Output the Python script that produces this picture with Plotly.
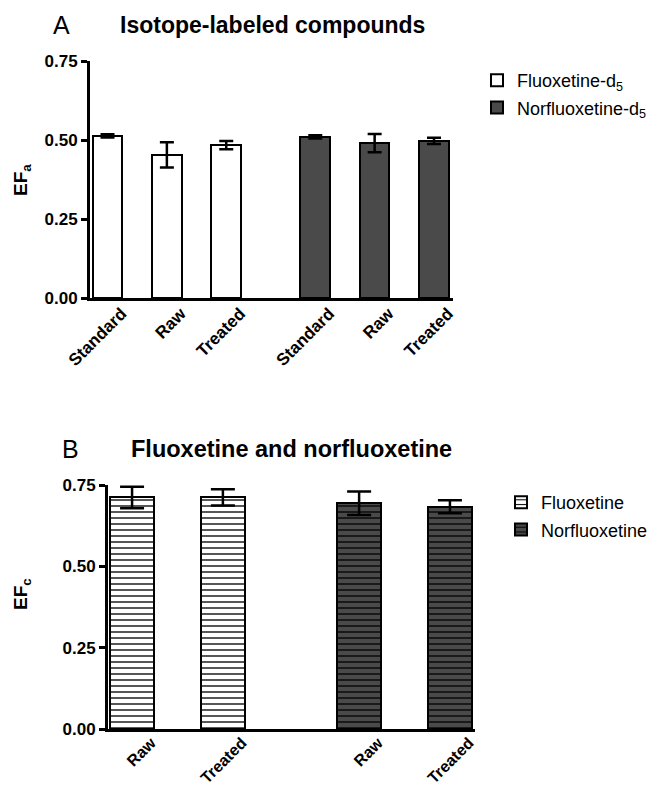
import plotly.graph_objects as go

# Panel A: isotope-labeled compounds, EF_a
a_groups = ["Fluoxetine-d<sub>5</sub>", "Norfluoxetine-d<sub>5</sub>"]
a_samples = ["Standard", "Raw", "Treated"]
a_fluox_mean = [0.513, 0.453, 0.484]
a_fluox_err = [0.005, 0.040, 0.013]
a_norfl_mean = [0.510, 0.490, 0.497]
a_norfl_err = [0.005, 0.029, 0.010]

# Panel B: fluoxetine and norfluoxetine, EF_c
b_groups = ["Fluoxetine", "Norfluoxetine"]
b_samples = ["Raw", "Treated"]
b_fluox_mean = [0.712, 0.712]
b_fluox_err = [0.033, 0.025]
b_norfl_mean = [0.694, 0.683]
b_norfl_err = [0.036, 0.020]

y_ticks = [0.0, 0.25, 0.50, 0.75]

W, H = 655, 790
DARK = "#4a4a4a"
FONT = "Liberation Sans, Arial, sans-serif"


def positions(group_index, n):
    # bars of one group sit side by side; groups are separated by half a slot
    return [group_index * (n + 0.5) + i for i in range(n)]


fig = go.Figure()

a_pos = [positions(0, 3), positions(1, 3)]
b_pos = [positions(0, 2), positions(1, 2)]

# panel A bars
for gi, (name, mean, err, fill) in enumerate([
    (a_groups[0], a_fluox_mean, a_fluox_err, "white"),
    (a_groups[1], a_norfl_mean, a_norfl_err, DARK),
]):
    fig.add_trace(go.Bar(
        x=a_pos[gi], y=mean, name=name, width=0.5,
        marker=dict(color=fill, line=dict(color="black", width=2)),
        error_y=dict(type="data", array=err, color="black", thickness=2.5, width=7),
        xaxis="x", yaxis="y", legend="legend", legendgroup=f"a{gi}",
    ))

# panel B bars with horizontal stripes
for gi, (name, mean, err, fill) in enumerate([
    (b_groups[0], b_fluox_mean, b_fluox_err, "white"),
    (b_groups[1], b_norfl_mean, b_norfl_err, DARK),
]):
    fig.add_trace(go.Bar(
        x=b_pos[gi], y=mean, name=name, width=0.49,
        marker=dict(
            color=fill, line=dict(color="black", width=2),
            pattern=dict(shape="-", size=6, solidity=0.22, fgcolor="black",
                         bgcolor=fill, fillmode="replace"),
        ),
        error_y=dict(type="data", array=err, color="black", thickness=2.5, width=12),
        xaxis="x2", yaxis="y2", legend="legend2", legendgroup=f"b{gi}",
    ))

axis_common = dict(
    showline=True, linewidth=3, linecolor="black", showgrid=False, zeroline=False,
    ticks="outside", ticklen=6, tickwidth=2.5, tickcolor="black", automargin=False,
    tickfont=dict(family=FONT, size=17, color="black", weight="bold"),
)

xa = dict(axis_common)
xa.update(ticklen=0, tickangle=-45, ticklabelstandoff=-4,
          tickfont=dict(family=FONT, size=17, color="black", weight="bold"))

xb = dict(xa)
xb.update(ticklabelstandoff=-5, tickfont=dict(family=FONT, size=16, color="black", weight="bold"))

fig.update_layout(
    width=W, height=H, margin=dict(l=0, r=0, t=0, b=0, autoexpand=False),
    paper_bgcolor="white", plot_bgcolor="white",
    barmode="overlay", bargap=0,
    font=dict(family=FONT, color="black"),
    xaxis=dict(xa, domain=[90 / W, 453 / W], range=[-0.295, 5.82], ticklabelshift=14,
               tickvals=a_pos[0] + a_pos[1], ticktext=a_samples + a_samples, anchor="y"),
    yaxis=dict(axis_common, domain=[1 - 298 / H, 1 - 61 / H], range=[0, 0.75],
               tickvals=y_ticks, tickformat=".2f", anchor="x"),
    xaxis2=dict(xb, domain=[108 / W, 475 / W], range=[-0.265, 3.776], ticklabelshift=19,
                tickvals=b_pos[0] + b_pos[1], ticktext=b_samples + b_samples, anchor="y2"),
    yaxis2=dict(axis_common, domain=[1 - 729.3 / H, 1 - 485 / H], range=[0, 0.75],
                tickvals=y_ticks, tickformat=".2f", anchor="x2"),
    legend=dict(x=477 / W, y=1 - 62 / H, xanchor="left", yanchor="top",
                font=dict(family=FONT, size=18, color="black"),
                tracegroupgap=1, bgcolor="rgba(0,0,0,0)"),
    legend2=dict(x=501 / W, y=1 - 484 / H, xanchor="left", yanchor="top",
                 font=dict(family=FONT, size=18, color="black"),
                 tracegroupgap=1, bgcolor="rgba(0,0,0,0)"),
    showlegend=True,
)

annotations = [
    dict(text="A", x=61 / W, y=1 - 25 / H, font=dict(size=25)),
    dict(text="<b>Isotope-labeled compounds</b>", x=272 / W, y=1 - 25 / H, font=dict(size=23)),
    dict(text="B", x=70 / W, y=1 - 449 / H, font=dict(size=25)),
    dict(text="<b>Fluoxetine and norfluoxetine</b>", x=291 / W, y=1 - 449 / H, font=dict(size=23.5)),
    dict(text="<b>EF<sub>a</sub></b>", x=22 / W, y=1 - 180 / H, textangle=-90, font=dict(size=19)),
    dict(text="<b>EF<sub>c</sub></b>", x=22 / W, y=1 - 594 / H, textangle=-90, font=dict(size=19)),
]
for ann in annotations:
    ann.update(xref="paper", yref="paper", xanchor="center", yanchor="middle", showarrow=False)
    ann["font"].update(family=FONT, color="black")
fig.update_layout(annotations=annotations)

fig.write_html("out.html")
